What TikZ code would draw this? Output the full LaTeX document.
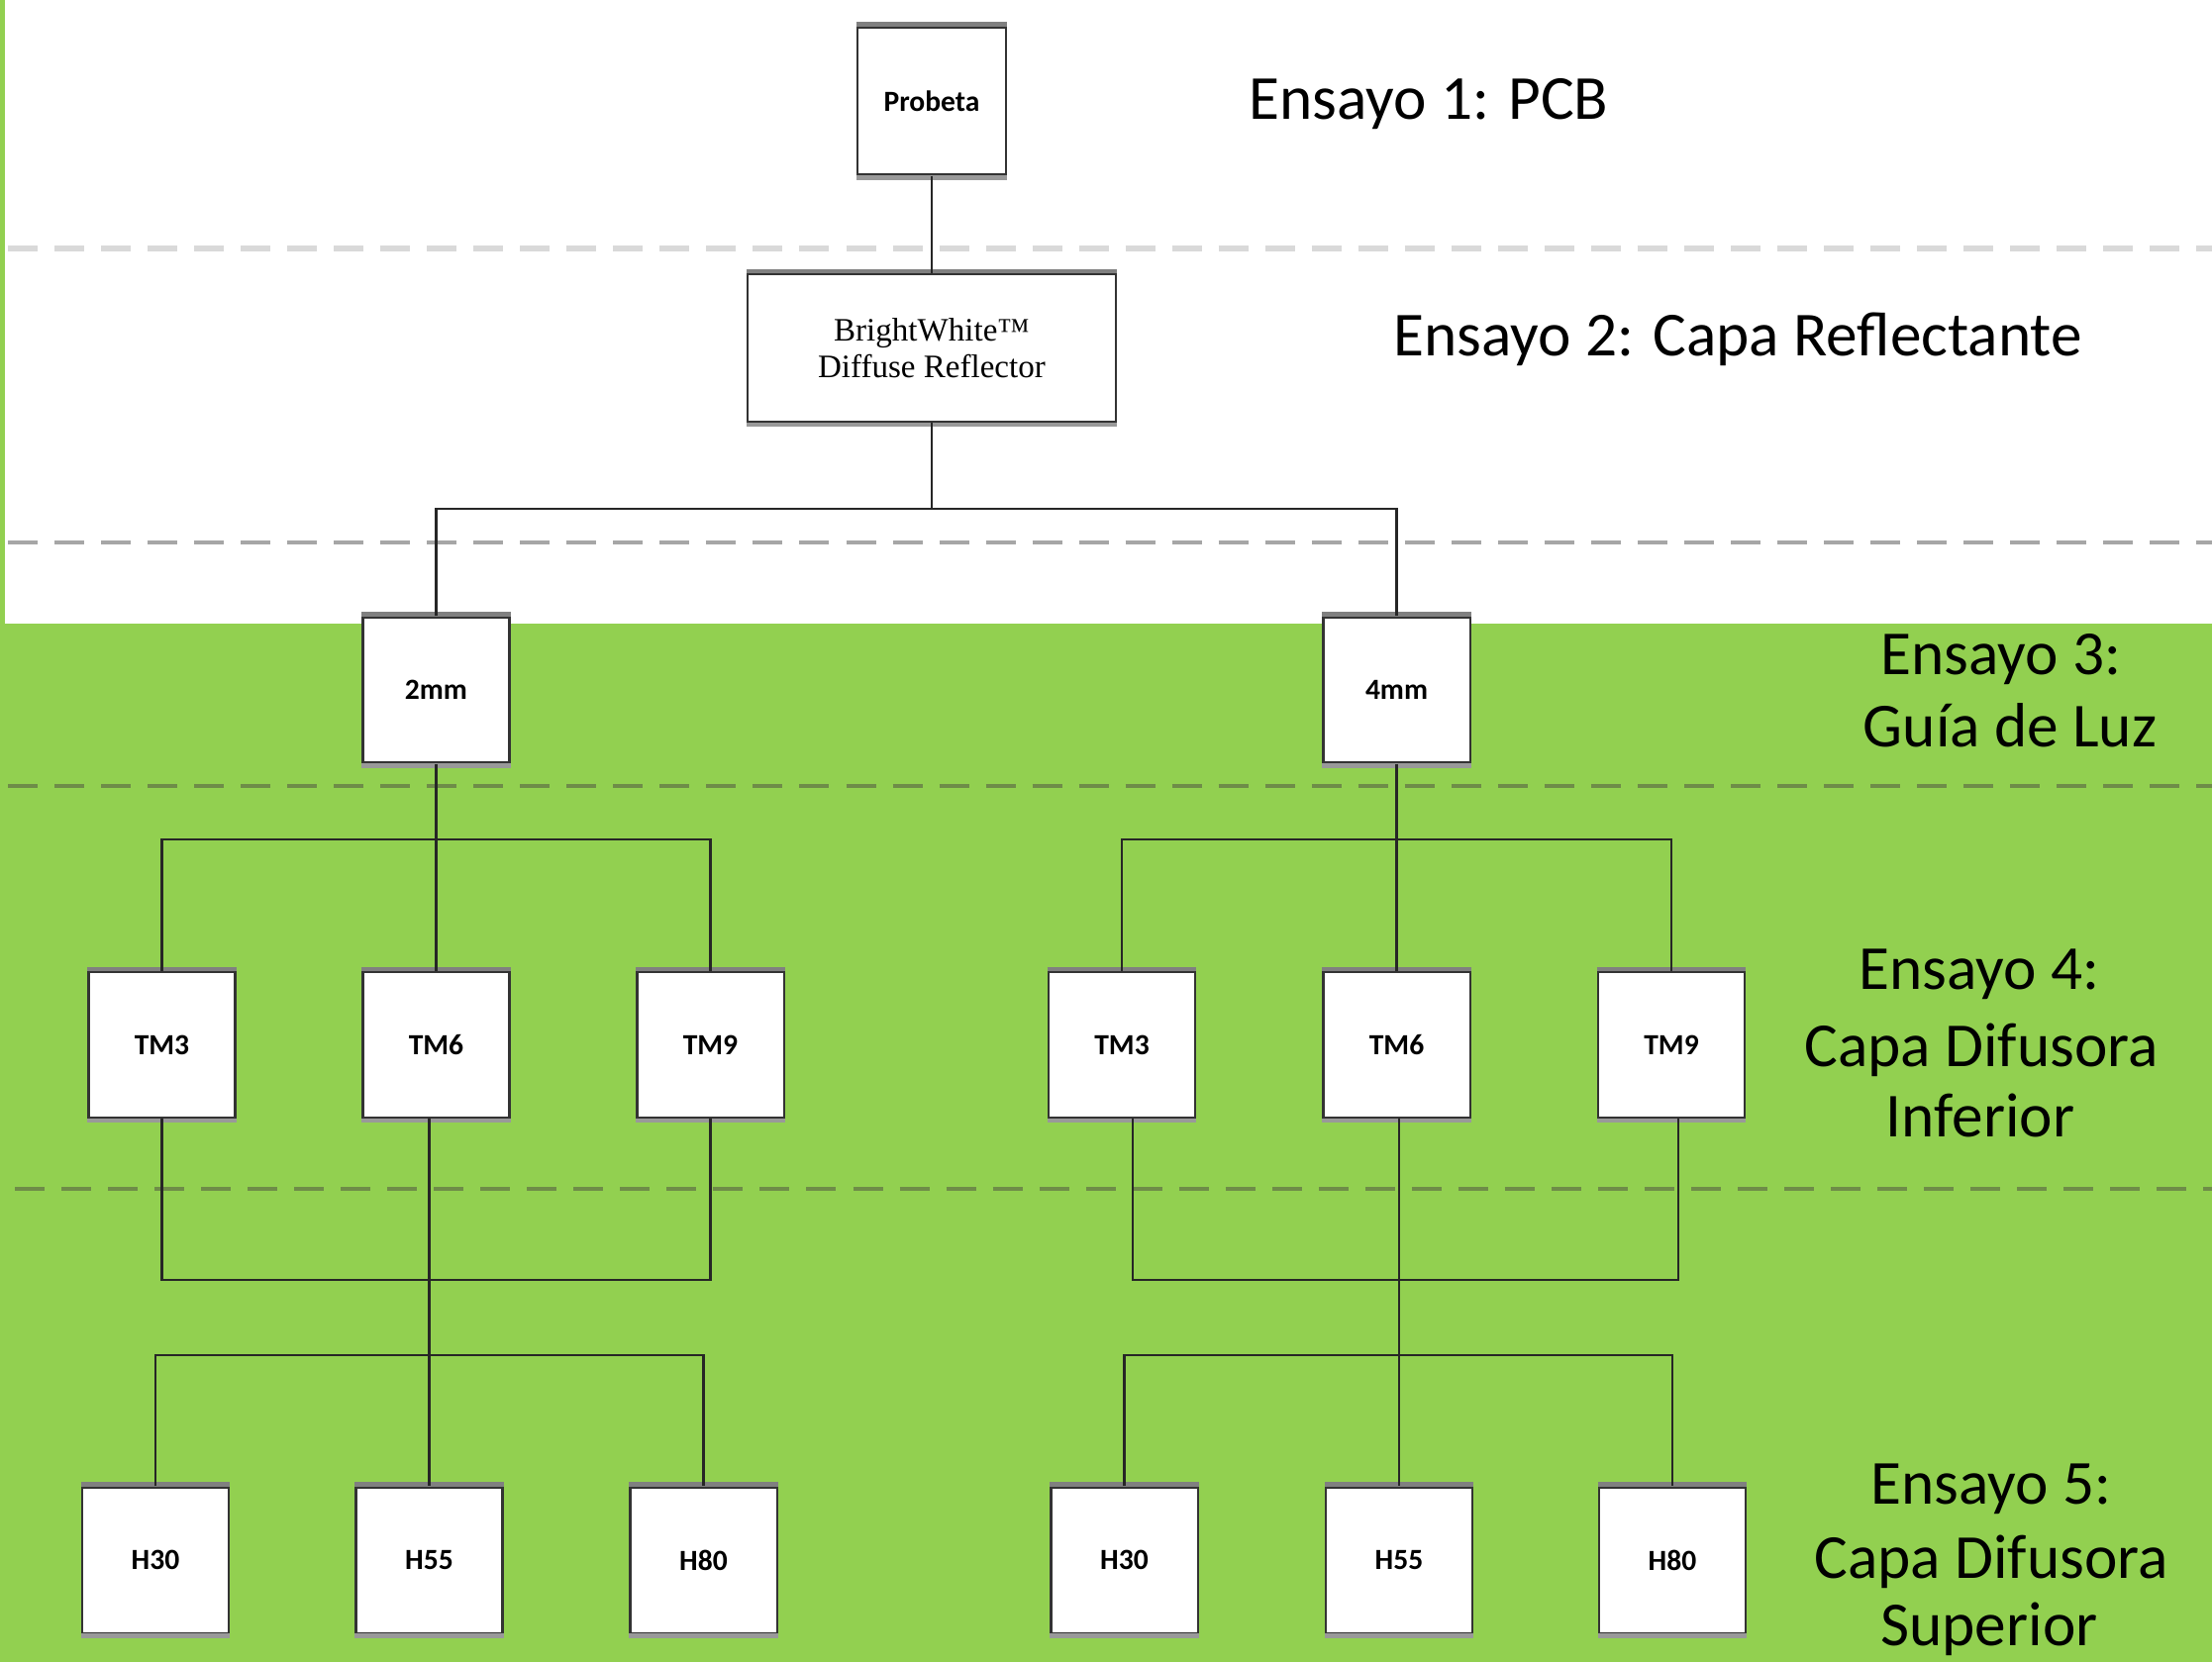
\documentclass[tikz,border=0pt]{standalone}
\usepackage{fontspec}
\setmainfont{Carlito}
\newfontfamily\bwfont{Liberation Serif}
\usepackage{tikz}
\definecolor{verde}{HTML}{92D050}
\definecolor{sepgris}{HTML}{D9D9D9}
\definecolor{sepmedio}{HTML}{A6A6A6}
\definecolor{sepverde}{HTML}{6E8C48}
\tikzset{
  caja/.style={draw=black!80, line width=0.6pt, fill=white, minimum width=1.48cm,
    minimum height=1.47cm, inner sep=0pt, font=\fontsize{8.4}{10}\selectfont\bfseries},
  ensayo/.style={inner sep=0pt, font=\fontsize{18}{22}\selectfont},
  linea/.style={draw=black!85, line width=0.65pt},
  borde/.style={draw=black!50, line width=1.3pt},
  sep/.style={line width=1pt, dash pattern=on 0.3cm off 0.17cm},
}

\begin{document}
\begin{tikzpicture}[x=0.01cm,y=-0.01cm]
    \useasboundingbox (0,0) rectangle (2234,1679);
    % fondo
    \fill[verde] (0,630) rectangle (2234,1679);
    \fill[verde] (0,0) rectangle (5,630);
    % separadores de ensayos
    \draw[sep, sepgris, line width=1.6pt] (8,251) -- (2234,251);
    \draw[sep, sepmedio] (8,548) -- (2234,548);
    \draw[sep, sepverde] (8,794) -- (2234,794);
    \draw[sep, sepverde] (15,1201) -- (2234,1201);
    % cajas
    \node[caja, minimum width=1.5cm, minimum height=1.49cm] (probeta) at (941,102) {Probeta};
    \node[caja, minimum width=3.72cm, minimum height=1.49cm, align=center,
      font=\bwfont\fontsize{9.4}{10.5}\selectfont] (bw) at (941,351.5) {BrightWhite™\\Diffuse Reflector};
    \node[caja] (g2) at (440.5,697) {2mm};
    \node[caja] (g4) at (1410.5,697) {4mm};
    \foreach \nom/\x in {3/163.5,6/440.5,9/717.5}
        \node[caja] (tmA\nom) at (\x,1055.5) {TM\nom};
    \foreach \nom/\x in {3/1133,6/1410.5,9/1688}
        \node[caja] (tmB\nom) at (\x,1055.5) {TM\nom};
    \foreach \nom/\x in {30/157,55/433.5,80/710.5}
        \node[caja] (hA\nom) at (\x,1576) {H\nom};
    \foreach \nom/\x in {30/1135.5,55/1413,80/1689}
        \node[caja] (hB\nom) at (\x,1576) {H\nom};
    % bordes sombreados
    \foreach \n in {probeta,bw,g2,g4,tmA3,tmA6,tmA9,tmB3,tmB6,tmB9,hA30,hA55,hA80,hB30,hB55,hB80} {
        \draw[borde] ([yshift=0.5pt]\n.north west) -- ([yshift=0.5pt]\n.north east);
        \draw[borde, draw=black!40] ([yshift=-0.5pt]\n.south west) -- ([yshift=-0.5pt]\n.south east);
    }
    % puntos de union
    \coordinate (u1) at (941,514);
    \coordinate (uA) at (440.5,848);
    \coordinate (uB) at (1410.5,848);
    \coordinate (vA) at (440.5,1293);
    \coordinate (vB) at (1410.5,1293);
    \coordinate (wA) at (433.5,1369);
    \coordinate (wB) at (1413,1369);
    % conectores
    \draw[linea] (probeta) -- (bw);
    \draw[linea] (bw.south) -- (u1);
    \draw[linea] (g2.north) |- (u1) -| (g4.north);
    \draw[linea] (g2) -- (tmA6);
    \draw[linea] (g4) -- (tmB6);
    \draw[linea] (tmA3.north) |- (uA) -| (tmA9.north);
    \draw[linea] (tmB3.north) |- (uB) -| (tmB9.north);
    \draw[linea] (tmA3.south) |- (vA) -| (tmA9.south);
    \draw[linea] ([xshift=0.11cm]tmB3.south) |- (vB) -| ([xshift=0.07cm]tmB9.south);
    \draw[linea] (hA55.north |- tmA6.south) -- (hA55.north);
    \draw[linea] (hB55.north |- tmB6.south) -- (hB55.north);
    \draw[linea] (hA30.north) |- (wA) -| (hA80.north);
    \draw[linea] (hB30.north) |- (wB) -| (hB80.north);
    % nombres de ensayos
    \node[ensayo, anchor=base west] (e1) at (1261,121) {Ensayo 1: PCB};
    \node[ensayo, anchor=base west] (e2) at (1407,359) {Ensayo 2: Capa Reflectante};
    \node[ensayo, anchor=base] (e3a) at (2021,681) {Ensayo 3:};
    \node[ensayo, anchor=base] (e3b) at (2030,754) {Guía de Luz};
    \node[ensayo, anchor=base] (e4a) at (1999,999) {Ensayo 4:};
    \node[ensayo, anchor=base] (e4b) at (2001,1077) {Capa Difusora};
    \node[ensayo, anchor=base] (e4c) at (2000,1148) {Inferior};
    \node[ensayo, anchor=base] (e5a) at (2011,1519) {Ensayo 5:};
    \node[ensayo, anchor=base] (e5b) at (2011,1594) {Capa Difusora};
    \node[ensayo, anchor=base] (e5c) at (2009,1662) {Superior};
\end{tikzpicture}
\end{document}
